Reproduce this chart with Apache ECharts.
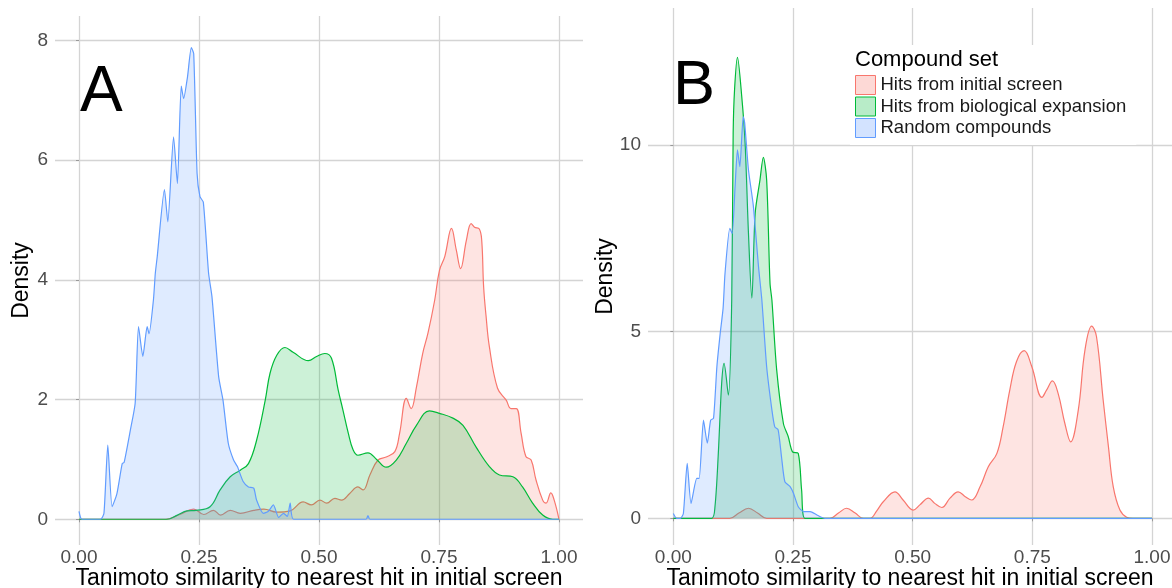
<!DOCTYPE html>
<html>
<head>
<meta charset="utf-8">
<script src="https://cdn.jsdelivr.net/npm/echarts@6/dist/echarts.min.js"></script>
<style>
  html, body { margin: 0; padding: 0; background: #fff; }
  #main { width: 1172px; height: 588px; }
</style>
</head>
<body>
<div id="main"></div>
<script>
// series names (legend)
let seriesNames = ['Hits from initial screen', 'Hits from biological expansion', 'Random compounds'];
let lineColors = ['#F8766D', '#00BA38', '#619CFF'];
let fillColors = ['rgba(248,118,109,0.2)', 'rgba(0,186,56,0.2)', 'rgba(97,156,255,0.2)'];
let xTicks = [0, 0.25, 0.5, 0.75, 1];
let yTicksA = [0, 2, 4, 6, 8];
let yTicksB = [0, 5, 10];

// panel A densities [similarity, density]
let aInitial = [[0,0],[0.18,0],[0.21,0.08],[0.239,0.17],[0.26,0.08],[0.28,0.15],[0.295,0.07],[0.315,0.15],[0.336,0.1],[0.364,0.15],[0.385,0.17],[0.412,0.12],[0.44,0.14],[0.467,0.29],[0.484,0.24],[0.502,0.32],[0.516,0.27],[0.533,0.35],[0.547,0.32],[0.564,0.43],[0.581,0.54],[0.592,0.49],[0.606,0.74],[0.623,0.99],[0.64,1.04],[0.658,1.13],[0.668,1.44],[0.682,2.02],[0.692,1.85],[0.703,2.21],[0.716,2.77],[0.727,3.11],[0.741,3.66],[0.751,4.16],[0.762,4.39],[0.776,4.86],[0.786,4.5],[0.795,4.19],[0.807,4.66],[0.817,4.94],[0.824,4.88],[0.834,4.85],[0.839,4.66],[0.843,3.88],[0.848,3.4],[0.855,2.88],[0.872,2.19],[0.89,1.99],[0.9,1.85],[0.911,1.85],[0.921,1.44],[0.931,1.05],[0.942,0.99],[0.952,0.66],[0.966,0.32],[0.973,0.27],[0.983,0.44],[0.99,0.32],[1,0]];
let aExpansion = [[0,0],[0.183,0],[0.205,0.07],[0.225,0.14],[0.244,0.15],[0.273,0.21],[0.294,0.49],[0.315,0.71],[0.336,0.82],[0.353,0.93],[0.37,1.32],[0.388,1.99],[0.398,2.44],[0.412,2.74],[0.429,2.87],[0.446,2.79],[0.478,2.65],[0.495,2.72],[0.512,2.77],[0.526,2.69],[0.54,2.16],[0.55,1.82],[0.561,1.44],[0.571,1.16],[0.581,1.07],[0.602,1.11],[0.62,1.0],[0.64,0.87],[0.661,0.99],[0.682,1.27],[0.703,1.57],[0.73,1.81],[0.751,1.77],[0.779,1.69],[0.8,1.57],[0.827,1.21],[0.855,0.88],[0.876,0.74],[0.904,0.71],[0.924,0.54],[0.945,0.27],[0.966,0.07],[0.987,0],[1,0]];
let aRandom = [[0,0.13],[0.006,0],[0.045,0],[0.052,0.1],[0.06,1.24],[0.069,0.21],[0.079,0.43],[0.09,0.93],[0.094,0.95],[0.107,1.49],[0.117,1.94],[0.124,3.22],[0.133,2.72],[0.142,3.22],[0.146,3.1],[0.155,3.66],[0.159,4.11],[0.163,4.39],[0.178,5.51],[0.185,4.97],[0.197,6.39],[0.205,5.61],[0.213,7.24],[0.218,7.03],[0.226,7.39],[0.234,7.88],[0.239,7.78],[0.246,5.78],[0.252,5.39],[0.259,5.3],[0.27,4.11],[0.277,3.72],[0.291,2.38],[0.3,1.99],[0.311,1.27],[0.322,0.99],[0.33,0.88],[0.342,0.63],[0.353,0.54],[0.364,0.52],[0.37,0.32],[0.384,0.1],[0.394,0.13],[0.405,0.24],[0.416,0.03],[0.426,0.1],[0.434,0.05],[0.44,0.27],[0.447,0],[0.598,0],[0.602,0.06],[0.606,0],[1,0]];

// panel B densities
let bInitial = [[0,0],[0.118,0],[0.137,0.14],[0.157,0.27],[0.176,0.14],[0.195,0],[0.327,0],[0.345,0.14],[0.362,0.27],[0.38,0.14],[0.397,0],[0.411,0],[0.425,0.2],[0.439,0.45],[0.463,0.71],[0.48,0.49],[0.501,0.22],[0.515,0.36],[0.533,0.54],[0.546,0.4],[0.561,0.29],[0.578,0.54],[0.595,0.71],[0.61,0.58],[0.623,0.49],[0.641,0.85],[0.658,1.38],[0.676,1.74],[0.689,2.45],[0.703,3.44],[0.717,4.2],[0.733,4.49],[0.749,4.06],[0.77,3.24],[0.78,3.44],[0.792,3.68],[0.804,3.34],[0.818,2.54],[0.83,2.05],[0.846,2.9],[0.86,4.51],[0.874,5.15],[0.884,4.87],[0.898,3.17],[0.909,1.92],[0.919,0.85],[0.933,0.22],[0.947,0.03],[0.96,0],[1,0]];
let bExpansion = [[0,0],[0.08,0],[0.087,0.31],[0.094,1.74],[0.101,3.62],[0.106,4.15],[0.115,3.3],[0.122,5.84],[0.125,10.31],[0.128,11.5],[0.134,12.35],[0.143,11.29],[0.15,10.04],[0.157,7.63],[0.164,5.9],[0.171,8.17],[0.181,9.06],[0.188,9.67],[0.195,9.06],[0.202,6.3],[0.206,5.84],[0.216,3.97],[0.23,2.54],[0.24,2.19],[0.249,1.78],[0.261,1.74],[0.268,0.76],[0.275,0],[1,0]];
let bRandom = [[0,0.13],[0.007,0],[0.015,0],[0.021,0.13],[0.029,1.47],[0.037,0.4],[0.049,1.07],[0.054,1.07],[0.063,2.63],[0.071,2.01],[0.078,2.63],[0.084,2.68],[0.091,4.06],[0.098,4.96],[0.104,5.63],[0.108,6.56],[0.118,7.77],[0.123,7.63],[0.129,8.88],[0.134,9.87],[0.139,9.42],[0.146,10.76],[0.149,10.6],[0.157,9.33],[0.167,8.39],[0.178,6.74],[0.185,5.84],[0.195,4.06],[0.206,2.9],[0.212,2.45],[0.219,2.37],[0.226,1.65],[0.233,0.98],[0.244,0.85],[0.251,0.67],[0.261,0.31],[0.272,0.18],[0.286,0.18],[0.3,0.09],[0.317,0],[1,0]];

let fontFam = '"Liberation Sans", Arial, sans-serif';
let gridColor = '#d4d4d4';

// panel gridlines drawn as markLines so the edges stay clean
function gridLines(xs, ys) {
    let d = [];
    xs.forEach(function (v) { d.push({ xAxis: v }); });
    ys.forEach(function (v) { d.push({ yAxis: v }); });
    return {
        silent: true,
        z: 0,
        symbol: ['none', 'none'],
        label: { show: false },
        lineStyle: { color: gridColor, width: 1.3, type: 'solid' },
        emphasis: { disabled: true },
        data: d
    };
}

function mkSeries(idx, data, gi, smooth, extra) {
    let s = {
        name: seriesNames[idx],
        type: 'line',
        xAxisIndex: gi,
        yAxisIndex: gi,
        data: data,
        smooth: smooth,
        symbol: 'none',
        z: 2 + idx,
        lineStyle: { color: lineColors[idx], width: 1.2 },
        itemStyle: { color: lineColors[idx] },
        areaStyle: { color: fillColors[idx], opacity: 1 },
        emphasis: { disabled: true }
    };
    if (extra) s.markLine = extra;
    return s;
}

function xAxisOpt(gi, min, max) {
    return {
        type: 'value',
        gridIndex: gi,
        min: min,
        max: max,
        minInterval: 0.25,
        maxInterval: 0.25,
        name: 'Tanimoto similarity to nearest hit in initial screen',
        nameLocation: 'middle',
        nameGap: 22,
        nameMoveOverlap: false,
        nameTextStyle: { color: '#000', fontSize: 23, fontFamily: fontFam, verticalAlign: 'top' },
        axisLine: { show: false },
        axisTick: { show: true, length: 3, lineStyle: { color: '#999' }, customValues: xTicks },
        axisLabel: {
            color: '#4d4d4d', fontSize: 19, fontFamily: fontFam, margin: 3,
            showMinLabel: false, showMaxLabel: false,
            formatter: function (v) { return v.toFixed(2); }
        },
        splitLine: { show: false }
    };
}

function yAxisOpt(gi, min, max, step, ticks, gap) {
    return {
        type: 'value',
        gridIndex: gi,
        min: min,
        max: max,
        minInterval: step,
        maxInterval: step,
        name: 'Density',
        nameLocation: 'middle',
        nameGap: gap,
        nameMoveOverlap: false,
        nameTextStyle: { color: '#000', fontSize: 23, fontFamily: fontFam },
        axisLine: { show: false },
        axisTick: { show: true, length: 3, lineStyle: { color: '#999' }, customValues: ticks },
        axisLabel: {
            color: '#4d4d4d', fontSize: 19, fontFamily: fontFam, margin: 7,
            showMinLabel: false, showMaxLabel: false
        },
        splitLine: { show: false }
    };
}

let option = {
    animation: false,
    backgroundColor: '#fff',
    textStyle: { fontFamily: fontFam },
    title: [
        { text: 'A', left: 75, top: 56, textStyle: { fontSize: 64, fontWeight: 'normal', color: '#000', fontFamily: fontFam } },
        { text: 'B', left: 668, top: 50, textStyle: { fontSize: 63, fontWeight: 'normal', color: '#000', fontFamily: fontFam } },
        { text: 'Compound set', left: 850, top: 44, textStyle: { fontSize: 22, fontWeight: 'normal', color: '#000', fontFamily: fontFam } }
    ],
    legend: {
        orient: 'vertical',
        left: 850,
        top: 45,
        padding: [30, 10, 7, 5],
        backgroundColor: '#fff',
        itemWidth: 20,
        itemHeight: 19,
        itemGap: 1.5,
        icon: 'rect',
        textStyle: { color: '#1a1a1a', fontSize: 18.5, fontFamily: fontFam },
        data: seriesNames.map(function (n, i) {
            return { name: n, icon: 'rect', itemStyle: { color: fillColors[i].replace('0.2)', '0.28)'), borderColor: lineColors[i], borderWidth: 1 } };
        })
    },
    grid: [
        { left: 55, right: 589, top: 16, bottom: 43, outerBoundsMode: 'none', containLabel: false },
        { left: 648, right: 0, top: 8, bottom: 43, outerBoundsMode: 'none', containLabel: false }
    ],
    xAxis: [
        xAxisOpt(0, -0.05, 1.05),
        xAxisOpt(1, -0.0529, 1.0418)
    ],
    yAxis: [
        yAxisOpt(0, -0.43, 8.41, 2, yTicksA, 22),
        yAxisOpt(1, -0.715, 13.67, 5, yTicksB, 31)
    ],
    series: [
        mkSeries(0, aInitial, 0, 0.4, gridLines(xTicks, yTicksA)),
        mkSeries(1, aExpansion, 0, 0.4),
        mkSeries(2, aRandom, 0, 0.2),
        mkSeries(0, bInitial, 1, 0.4, gridLines(xTicks, yTicksB)),
        mkSeries(1, bExpansion, 1, 0.3),
        mkSeries(2, bRandom, 1, 0.2)
    ]
};

let myChart = echarts.init(document.getElementById('main'));
myChart.setOption(option);

window.addEventListener('resize', function () {
    myChart.resize();
});
</script>
</body>
</html>
